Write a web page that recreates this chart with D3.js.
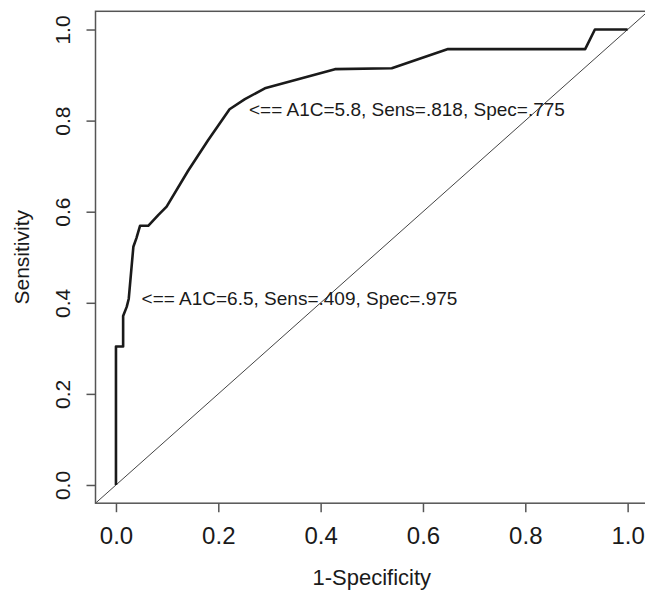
<!DOCTYPE html>
<html>
<head>
<meta charset="utf-8">
<script src="https://cdn.jsdelivr.net/npm/d3@7"></script>
<style>
  body { margin: 0; background: #fff; }
  svg { display: block; font-family: "Liberation Sans", Arial, Helvetica, sans-serif; }
</style>
</head>
<body>
<div id="chart"></div>
<script>
// ROC curve
const fpr = [0, 0, 0, 0.014, 0.014, 0.021, 0.025, 0.034, 0.040, 0.047, 0.063, 0.083, 0.099, 0.141, 0.180, 0.222, 0.252, 0.291, 0.428, 0.539, 0.649, 0.917, 0.936, 1.0];
const tpr = [0, 0.216, 0.304, 0.304, 0.371, 0.391, 0.409, 0.523, 0.542, 0.569, 0.569, 0.593, 0.611, 0.690, 0.757, 0.825, 0.847, 0.871, 0.913, 0.915, 0.957, 0.957, 1.0, 1.0];

const xTicks = [0, 0.2, 0.4, 0.6, 0.8, 1.0];
const yTicks = [0, 0.2, 0.4, 0.6, 0.8, 1.0];

const noteLabels = ['<== A1C=6.5, Sens=.409, Spec=.975', '<== A1C=5.8, Sens=.818, Spec=.775'];
const noteX = [0.05, 0.26];
const noteY = [0.409, 0.825];

const width = 645;
const height = 590;
const box = { left: 95.5, right: 648.1, top: 11.3, bottom: 503.2 };

const svg = d3.select('#chart')
    .append('svg')
    .attr('width', width)
    .attr('height', height);

const x = d3.scaleLinear().domain([-0.04, 1.04]).range([box.left, box.right]);
const y = d3.scaleLinear().domain([-0.04, 1.04]).range([box.bottom, box.top]);

svg.append('clipPath')
    .attr('id', 'plot-clip')
    .append('rect')
    .attr('x', box.left)
    .attr('y', box.top)
    .attr('width', box.right - box.left)
    .attr('height', box.bottom - box.top);

// reference diagonal
svg.append('line')
    .attr('clip-path', 'url(#plot-clip)')
    .attr('x1', x(-0.04)).attr('y1', y(-0.04))
    .attr('x2', x(1.04)).attr('y2', y(1.04))
    .attr('stroke', '#444')
    .attr('stroke-width', 1);

// ROC curve
const points = fpr.map((d, i) => [d, tpr[i]]);
svg.append('path')
    .datum(points)
    .attr('d', d3.line().x(d => x(d[0])).y(d => y(d[1])))
    .attr('fill', 'none')
    .attr('stroke', '#1a1a1a')
    .attr('stroke-width', 2.6)
    .attr('stroke-linejoin', 'round');

// box
svg.append('rect')
    .attr('x', box.left)
    .attr('y', box.top)
    .attr('width', box.right - box.left)
    .attr('height', box.bottom - box.top)
    .attr('fill', 'none')
    .attr('stroke', '#555')
    .attr('stroke-width', 1.5);

// x axis
const xAxis = svg.append('g')
    .attr('transform', `translate(0,${box.bottom})`)
    .call(d3.axisBottom(x).tickValues(xTicks).tickFormat(d3.format('.1f')).tickSize(9).tickPadding(15));
xAxis.select('.domain').remove();
xAxis.selectAll('line').attr('stroke', '#555').attr('stroke-width', 1.5);
xAxis.selectAll('text')
    .attr('fill', '#1a1a1a')
    .style('font-size', '24px')
    .style('font-family', '"Liberation Sans", Arial, sans-serif');

// y axis, labels turned like R
const yAxis = svg.append('g')
    .attr('transform', `translate(${box.left},0)`)
    .call(d3.axisLeft(y).tickValues(yTicks).tickFormat(d3.format('.1f')).tickSize(9));
yAxis.select('.domain').remove();
yAxis.selectAll('line').attr('stroke', '#555').attr('stroke-width', 1.5);
yAxis.selectAll('text')
    .attr('transform', 'rotate(-90)')
    .attr('x', 0)
    .attr('y', -32.5)
    .attr('dy', '0.35em')
    .attr('fill', '#1a1a1a')
    .style('text-anchor', 'middle')
    .style('font-size', '21px')
    .style('font-family', '"Liberation Sans", Arial, sans-serif');

// axis titles
svg.append('text')
    .attr('x', x(0.5))
    .attr('y', 577.7)
    .attr('dy', '0.35em')
    .attr('text-anchor', 'middle')
    .attr('fill', '#1a1a1a')
    .style('font-size', '22px')
    .text('1-Specificity');

svg.append('text')
    .attr('transform', `translate(21.7,${y(0.5)}) rotate(-90)`)
    .attr('dy', '0.35em')
    .attr('text-anchor', 'middle')
    .attr('fill', '#1a1a1a')
    .style('font-size', '21px')
    .text('Sensitivity');

// cut-point notes
svg.selectAll('.note')
    .data(noteLabels)
    .join('text')
    .attr('class', 'note')
    .attr('x', (d, i) => x(noteX[i]))
    .attr('y', (d, i) => y(noteY[i]))
    .attr('dy', '0.35em')
    .attr('fill', '#1a1a1a')
    .style('font-size', '19px')
    .text(d => d);
</script>
</body>
</html>
